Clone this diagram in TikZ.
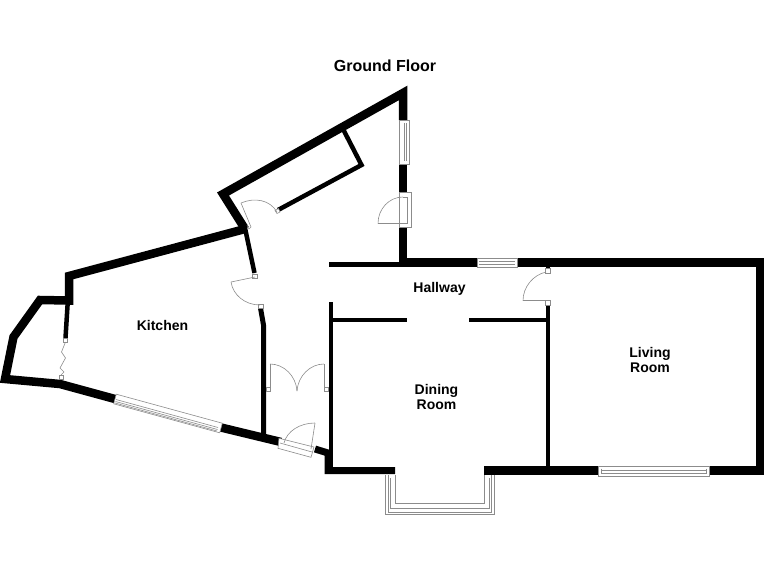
\documentclass[tikz,border=0pt]{standalone}
\usepackage{fontspec}
\setmainfont{Liberation Sans}
\tikzset{
    wall/.style={line width=8.5pt, line join=miter, line cap=butt},
    thinwall/.style={line width=4.5pt, line join=miter, line cap=butt},
    fitting/.style={line width=0.6pt, draw=black!45},
    roomlabel/.style={font=\fontsize{14}{14.5}\selectfont\bfseries, align=center},
}
\begin{document}
\begin{tikzpicture}[x=1pt, y=-1pt]
    \useasboundingbox (0,0) rectangle (768,576);
    % main corners
    \coordinate (apex) at (403,93);
    \coordinate (nwcorner) at (223,194);
    \coordinate (porchjoin) at (245,229);
    \coordinate (kitchentop) at (69,276);
    \coordinate (annexnorth) at (40,300);
    \coordinate (annexwest) at (13.5,337);
    \coordinate (annexsouth) at (5,379);
    \coordinate (kitchensouth) at (60,384);
    % outer walls
    \draw[wall] (403,120) -- (apex) -- (nwcorner) -- (porchjoin);
    \draw[wall] (porchjoin) -- (kitchentop) -- (69,300.5) -- (annexnorth) -- (annexwest) -- (annexsouth) -- (kitchensouth) -- (115,399);
    \draw[wall] (221,427.5) -- (281,442);
    \draw[wall, line width=7pt] (315,449) -- (328,453) -- (328,470.5) -- (395,470.5);
    \draw[wall] (403,164) -- (403,192);
    \draw[wall] (403,227) -- (403,262);
    \draw[wall] (403,262.5) -- (477,262.5);
    \draw[wall] (517,262.5) -- (760,262.5) -- (760,470.5) -- (709,470.5);
    \draw[wall] (598,470.5) -- (484,470.5);
    % inner walls
    \draw[thinwall] (329,264.7) -- (403,264.7);
    \draw[thinwall] (331,302) -- (331,470);
    \draw[thinwall] (331,320) -- (407,320);
    \draw[thinwall] (469,320) -- (548,320);
    \draw[thinwall] (548,305) -- (548,470);
    \draw[thinwall] (548,266) -- (548,269);
    \draw[thinwall] (245,228) -- (254.5,273);
    \draw[thinwall, line width=5pt] (260.5,308) -- (263.5,325) -- (263.5,438);
    \draw[thinwall] (68,298) -- (65.5,338);
    % cupboard
    \draw[thinwall] (343,129) -- (361.5,165) -- (278,210);
    % windows
    \draw[fitting, fill=white] (399,120) rectangle (409,164);
    \draw[fitting] (404,123) -- (404,161) (406.5,123) -- (406.5,161);
    \draw[fitting, fill=white] (477,258) rectangle (517,267);
    \draw[fitting] (479,261) -- (515,261) (479,264) -- (515,264);
    \draw[fitting, fill=white] (598,466) rectangle (709,476);
    \draw[fitting] (601,470.7) -- (706,470.7) (601,473.5) -- (706,473.5);
    \draw[fitting] (601,468.5) -- (601,473.5) (706,468.5) -- (706,473.5);
    \draw[fitting, fill=white] (116.3,394.2) -- (222.3,423.2) -- (219.7,432.8) -- (113.7,403.8) -- cycle;
    \draw[fitting] (116,399.5) -- (218,427.5) (115.5,401.5) -- (217.5,429.5) (115,403) -- (217,431);
    % bay window
    \draw[fitting] (395,475) -- (395,503) -- (484,503) -- (484,475);
    \draw[fitting] (385,475) -- (385,514) -- (494,514) -- (494,475);
    \draw[fitting] (388,475) -- (388,512) -- (491,512) -- (491,475);
    \draw[fitting] (390,478) -- (390,508) -- (489,508) -- (489,478);
    % door jambs
    \draw[fitting, fill=white] (258,304) rectangle (263,308);
    \draw[fitting, fill=white] (252.5,274) rectangle (257,278);
    \draw[fitting, fill=white] (545.7,268.5) rectangle (550.3,273);
    \draw[fitting, fill=white] (545.7,300.5) rectangle (550.3,305);
    \draw[fitting, fill=white] (266,387) rectangle (270.6,391);
    \draw[fitting, fill=white] (324,387) rectangle (328.6,391);
    \draw[fitting, fill=white] (63.5,338) rectangle (67.5,342);
    \draw[fitting, fill=white] (59,375) rectangle (63,379.5);
    \draw[fitting, fill=white] (275,210.5) -- (278.5,208.5) -- (280,212) -- (277,213.5) -- cycle;
    % doors
    \draw[fitting, fill=white] (399,192) rectangle (411.7,227.5);
    \draw[fitting] (403,197) -- (407,197) -- (407,223.5) -- (403,223.5);
    \draw[fitting] (378,223.5) -- (403,223.5);
    \draw[fitting] (378,223.5) .. controls (378,209) and (389,197) .. (403,197);
    \draw[fitting] (241,203) -- (251,227) -- (249,229) -- (247,225);
    \draw[fitting] (241,203) .. controls (255,197) and (270,200) .. (277,212);
    \draw[fitting] (255,277) -- (231,282);
    \draw[fitting] (231,282) .. controls (233,295) and (245,305) .. (260,305);
    \draw[fitting] (523,300.7) -- (546,300.7);
    \draw[fitting] (523,300.7) .. controls (523,287) and (533,275) .. (546,272);
    \draw[fitting] (270,387) -- (270,364);
    \draw[fitting] (270,364) .. controls (284,364) and (296,376) .. (297,391);
    \draw[fitting] (324,387) -- (324,364);
    \draw[fitting] (324,364) .. controls (310,364) and (298,376) .. (297,391);
    \draw[fitting, fill=white] (279,438.3) -- (278,448.3) -- (311,457.3) -- (314,447) -- cycle;
    \draw[fitting] (280,443) -- (312,452);
    \draw[fitting] (315,423) -- (311,449);
    \draw[fitting] (315,423) .. controls (300,423) and (287,431) .. (284,443);
    \draw[fitting] (65.5,342) -- (61.5,352) -- (65.5,358) -- (60,368) -- (64,372) -- (61,375);
    % labels
    \node[roomlabel, font=\fontsize{16}{16}\selectfont\bfseries] (groundfloor) at (385,66) {Ground Floor};
    \node[roomlabel] (hallway) at (439.5,288.5) {Hallway};
    \node[roomlabel] (kitchen) at (162.5,325.5) {Kitchen};
    \node[roomlabel] (diningroom) at (436.5,397) {Dining\\Room};
    \node[roomlabel] (livingroom) at (650,360) {Living\\Room};
\end{tikzpicture}
\end{document}
